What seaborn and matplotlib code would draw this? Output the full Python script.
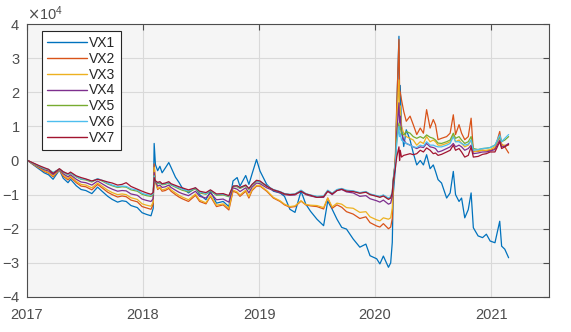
import numpy as np
import pandas as pd
import matplotlib
matplotlib.use("Agg")
import matplotlib.pyplot as plt
import matplotlib.dates as mdates
from matplotlib.ticker import ScalarFormatter, MultipleLocator
import seaborn as sns

# Sample dates shared by all seven series
dates = [
    "2017-01-03", "2017-01-20", "2017-02-08", "2017-02-24", "2017-03-10", "2017-03-24",
    "2017-04-13", "2017-04-25", "2017-05-10", "2017-05-18", "2017-06-05", "2017-06-20",
    "2017-07-05", "2017-07-24", "2017-08-11", "2017-08-25", "2017-09-12", "2017-09-26",
    "2017-10-13", "2017-10-27", "2017-11-09", "2017-11-24", "2017-12-14", "2017-12-29",
    "2018-01-12", "2018-01-26", "2018-02-02", "2018-02-05", "2018-02-09", "2018-02-16",
    "2018-02-23", "2018-03-02", "2018-03-12", "2018-03-23", "2018-03-30", "2018-04-13",
    "2018-04-24", "2018-05-04", "2018-05-24", "2018-06-15", "2018-06-28", "2018-07-18",
    "2018-08-01", "2018-08-20", "2018-09-10", "2018-09-28", "2018-10-11", "2018-10-24",
    "2018-11-02", "2018-11-20", "2018-11-30", "2018-12-10", "2018-12-24", "2019-01-04",
    "2019-01-25", "2019-02-15", "2019-03-08", "2019-03-22", "2019-04-08", "2019-04-24",
    "2019-05-13", "2019-05-28", "2019-06-12", "2019-07-02", "2019-07-23", "2019-08-05",
    "2019-08-19", "2019-09-03", "2019-09-18", "2019-10-03", "2019-10-24", "2019-11-14",
    "2019-12-03", "2019-12-16", "2020-01-06", "2020-01-16", "2020-01-27", "2020-02-12",
    "2020-02-19", "2020-02-24", "2020-02-27", "2020-03-05", "2020-03-09", "2020-03-16",
    "2020-03-18", "2020-03-20", "2020-03-24", "2020-03-31", "2020-04-08", "2020-04-20",
    "2020-04-30", "2020-05-11", "2020-05-22", "2020-06-01", "2020-06-11", "2020-06-22",
    "2020-07-02", "2020-07-09", "2020-07-17", "2020-07-28", "2020-08-13", "2020-08-24",
    "2020-09-03", "2020-09-10", "2020-09-21", "2020-09-29", "2020-10-09", "2020-10-20",
    "2020-10-29", "2020-11-05", "2020-11-20", "2020-12-04", "2020-12-16", "2020-12-28",
    "2021-01-12", "2021-01-27", "2021-02-02", "2021-02-12", "2021-02-24",
]

# Cumulative values, in units of 1e4
vx1 = [
    0.00, -0.12, -0.25, -0.36, -0.42, -0.55, -0.28, -0.52, -0.65, -0.55, -0.74, -0.85,
    -0.88, -0.97, -0.78, -0.90, -1.05, -1.14, -1.22, -1.18, -1.20, -1.32, -1.38, -1.53,
    -1.58, -1.62, -1.40, 0.50, -0.12, -0.30, -0.17, -0.36, -0.22, -0.06, -0.20, -0.49,
    -0.64, -0.80, -0.95, -0.80, -1.00, -1.15, -0.90, -1.25, -1.20, -1.35, -0.60, -0.50,
    -0.75, -0.44, -0.70, -0.39, 0.03, -0.31, -0.70, -0.90, -0.95, -1.05, -1.43, -1.52,
    -0.90, -1.28, -1.49, -1.72, -1.91, -1.19, -1.43, -1.72, -1.96, -2.01, -2.30, -2.54,
    -2.45, -2.79, -2.88, -3.03, -2.80, -3.13, -3.00, -2.40, -1.00, -0.20, 1.50, 3.64,
    1.50, 2.20, 1.00, 0.41, 0.90, 0.60, 0.22, -0.13, 0.00, -0.13, 0.17, -0.24,
    -0.13, -0.32, -0.56, -0.66, -1.10, -0.95, -0.32, -1.00, -1.20, -1.10, -1.68, -1.44,
    -0.95, -1.97, -2.21, -2.26, -2.16, -2.36, -2.41, -1.78, -2.51, -2.60, -2.85,
]
vx2 = [
    0.00, -0.11, -0.22, -0.32, -0.37, -0.48, -0.27, -0.46, -0.57, -0.49, -0.65, -0.75,
    -0.77, -0.86, -0.70, -0.80, -0.93, -1.00, -1.07, -1.04, -1.06, -1.16, -1.21, -1.35,
    -1.39, -1.43, -1.28, -0.10, -0.60, -0.85, -0.80, -0.90, -0.88, -0.82, -0.90, -1.00,
    -1.07, -1.12, -1.20, -1.02, -1.20, -1.27, -1.05, -1.35, -1.30, -1.45, -0.90, -0.95,
    -1.05, -0.90, -1.10, -0.88, -0.75, -0.75, -0.90, -1.10, -1.20, -1.30, -1.37, -1.35,
    -1.19, -1.30, -1.33, -1.35, -1.42, -1.10, -1.40, -1.30, -1.37, -1.50, -1.57, -1.70,
    -1.65, -1.82, -1.92, -1.95, -1.85, -2.00, -1.95, -1.70, -0.80, 0.20, 1.60, 3.55,
    2.07, 2.00, 1.78, 1.44, 1.15, 1.30, 1.05, 0.76, 0.95, 0.80, 1.49, 0.95,
    1.20, 1.05, 0.61, 0.65, 0.70, 0.80, 1.34, 0.76, 1.05, 0.80, 0.61, 0.70,
    1.24, 0.27, 0.27, 0.30, 0.28, 0.30, 0.35, 0.85, 0.48, 0.40, 0.22,
]
vx3 = [
    0.00, -0.10, -0.21, -0.30, -0.35, -0.45, -0.27, -0.43, -0.53, -0.46, -0.61, -0.70,
    -0.72, -0.80, -0.66, -0.75, -0.87, -0.94, -1.00, -0.98, -1.00, -1.09, -1.14, -1.27,
    -1.31, -1.34, -1.22, -0.20, -0.65, -0.82, -0.78, -0.86, -0.84, -0.78, -0.86, -0.95,
    -1.02, -1.07, -1.15, -0.98, -1.16, -1.24, -1.02, -1.31, -1.27, -1.40, -0.87, -0.92,
    -1.01, -0.87, -1.06, -0.85, -0.73, -0.73, -0.88, -1.08, -1.18, -1.28, -1.35, -1.33,
    -1.18, -1.29, -1.31, -1.32, -1.38, -1.10, -1.36, -1.25, -1.28, -1.38, -1.40, -1.52,
    -1.50, -1.65, -1.74, -1.77, -1.68, -1.72, -1.68, -1.40, -0.70, 0.10, 1.20, 2.36,
    1.40, 1.60, 1.00, 0.80, 0.70, 0.65, 0.60, 0.45, 0.55, 0.50, 0.70, 0.55,
    0.60, 0.55, 0.45, 0.45, 0.50, 0.55, 0.75, 0.55, 0.60, 0.50, 0.40, 0.45,
    0.60, 0.25, 0.28, 0.30, 0.30, 0.32, 0.40, 0.70, 0.45, 0.45, 0.45,
]
vx4 = [
    0.00, -0.09, -0.19, -0.27, -0.31, -0.41, -0.26, -0.39, -0.48, -0.42, -0.55, -0.63,
    -0.65, -0.72, -0.60, -0.68, -0.78, -0.84, -0.90, -0.88, -0.89, -0.98, -1.02, -1.13,
    -1.17, -1.20, -1.12, -0.35, -0.62, -0.75, -0.72, -0.79, -0.77, -0.72, -0.79, -0.87,
    -0.93, -0.97, -1.03, -0.90, -1.05, -1.10, -0.95, -1.15, -1.13, -1.22, -0.80, -0.84,
    -0.91, -0.80, -0.95, -0.78, -0.66, -0.68, -0.80, -0.88, -0.95, -1.00, -1.02, -1.01,
    -0.90, -1.00, -1.04, -1.08, -1.08, -0.90, -1.00, -0.88, -0.85, -0.92, -0.95, -1.05,
    -1.03, -1.12, -1.18, -1.22, -1.16, -1.28, -1.25, -1.05, -0.60, 0.00, 0.80, 1.69,
    1.10, 1.30, 0.80, 0.60, 0.50, 0.45, 0.40, 0.35, 0.40, 0.38, 0.50, 0.40,
    0.38, 0.35, 0.25, 0.28, 0.35, 0.40, 0.50, 0.40, 0.45, 0.40, 0.30, 0.35,
    0.45, 0.20, 0.22, 0.25, 0.25, 0.28, 0.32, 0.60, 0.40, 0.42, 0.50,
]
vx5 = [
    0.00, -0.08, -0.17, -0.24, -0.27, -0.36, -0.25, -0.34, -0.42, -0.37, -0.48, -0.55,
    -0.57, -0.63, -0.54, -0.60, -0.69, -0.74, -0.79, -0.77, -0.78, -0.86, -0.90, -0.99,
    -1.03, -1.05, -1.00, -0.45, -0.60, -0.68, -0.66, -0.71, -0.70, -0.66, -0.72, -0.78,
    -0.83, -0.87, -0.92, -0.83, -0.95, -0.99, -0.89, -1.02, -1.01, -1.06, -0.76, -0.77,
    -0.82, -0.74, -0.85, -0.72, -0.61, -0.63, -0.75, -0.86, -0.92, -0.98, -1.00, -0.99,
    -0.88, -0.98, -1.02, -1.06, -1.05, -0.88, -0.97, -0.86, -0.83, -0.88, -0.90, -0.95,
    -0.92, -0.99, -1.04, -1.06, -1.02, -1.12, -1.08, -0.95, -0.55, -0.05, 0.60, 1.10,
    0.90, 1.00, 0.80, 0.75, 0.85, 0.80, 0.70, 0.65, 0.70, 0.65, 0.75, 0.68,
    0.65, 0.60, 0.51, 0.50, 0.55, 0.60, 0.80, 0.65, 0.70, 0.60, 0.50, 0.55,
    0.70, 0.35, 0.32, 0.35, 0.36, 0.38, 0.45, 0.70, 0.55, 0.60, 0.70,
]
vx6 = [
    0.00, -0.08, -0.16, -0.23, -0.26, -0.35, -0.25, -0.33, -0.41, -0.36, -0.47, -0.54,
    -0.55, -0.61, -0.53, -0.58, -0.67, -0.72, -0.77, -0.75, -0.76, -0.83, -0.87, -0.96,
    -1.00, -1.02, -0.97, -0.45, -0.60, -0.66, -0.64, -0.69, -0.68, -0.64, -0.70, -0.76,
    -0.80, -0.84, -0.89, -0.81, -0.92, -0.97, -0.87, -1.00, -0.99, -1.04, -0.74, -0.75,
    -0.80, -0.72, -0.83, -0.70, -0.60, -0.62, -0.74, -0.85, -0.91, -0.97, -0.99, -0.98,
    -0.87, -0.97, -1.01, -1.05, -1.04, -0.87, -0.96, -0.85, -0.82, -0.87, -0.89, -0.94,
    -0.91, -0.98, -1.03, -1.05, -1.01, -1.10, -1.06, -0.92, -0.55, -0.05, 0.50, 1.00,
    0.70, 0.80, 0.60, 0.55, 0.50, 0.45, 0.40, 0.38, 0.45, 0.42, 0.55, 0.45,
    0.45, 0.42, 0.40, 0.40, 0.45, 0.50, 0.70, 0.55, 0.55, 0.50, 0.45, 0.48,
    0.60, 0.30, 0.32, 0.35, 0.36, 0.38, 0.45, 0.75, 0.55, 0.65, 0.76,
]
vx7 = [
    0.00, -0.07, -0.15, -0.21, -0.26, -0.38, -0.24, -0.33, -0.39, -0.34, -0.45, -0.50,
    -0.54, -0.60, -0.55, -0.58, -0.63, -0.66, -0.72, -0.70, -0.65, -0.76, -0.84, -0.90,
    -0.95, -0.99, -0.94, -0.50, -0.60, -0.64, -0.62, -0.68, -0.66, -0.62, -0.68, -0.73,
    -0.77, -0.80, -0.86, -0.80, -0.90, -0.94, -0.86, -0.98, -0.97, -1.03, -0.75, -0.74,
    -0.79, -0.72, -0.82, -0.70, -0.58, -0.60, -0.75, -0.86, -0.92, -0.98, -1.00, -0.99,
    -0.90, -0.98, -1.02, -1.08, -1.06, -0.90, -0.98, -0.88, -0.84, -0.90, -0.91, -0.96,
    -0.93, -1.00, -1.05, -1.08, -1.04, -1.14, -1.10, -0.95, -0.60, -0.20, 0.10, 0.40,
    0.00, 0.30, 0.10, 0.15, 0.17, 0.20, 0.17, 0.20, 0.30, 0.25, 0.37, 0.30,
    0.20, 0.22, 0.15, 0.18, 0.25, 0.30, 0.45, 0.30, 0.35, 0.25, 0.10, 0.15,
    0.40, 0.10, 0.12, 0.18, 0.20, 0.25, 0.25, 0.55, 0.35, 0.40, 0.47,
]

series_names = ["VX1", "VX2", "VX3", "VX4", "VX5", "VX6", "VX7"]
series_values = [vx1, vx2, vx3, vx4, vx5, vx6, vx7]
palette = ["#0072BD", "#D95319", "#EDB120", "#7E2F8E", "#77AC30", "#4DBEEE", "#A2142F"]

frames = []
for name, vals in zip(series_names, series_values):
    frames.append(pd.DataFrame({
        "date": pd.to_datetime(dates),
        "value": np.asarray(vals) * 1e4,
        "series": name,
    }))
df = pd.concat(frames, ignore_index=True)

sns.set_theme(style="white")
plt.rcParams["font.family"] = ["Liberation Sans", "DejaVu Sans"]
plt.rcParams["axes.unicode_minus"] = False

fig = plt.figure(figsize=(5.71, 3.32), dpi=100)
ax = fig.add_axes([27 / 571, 1 - 297 / 332, 522 / 571, 273 / 332])
ax.set_facecolor("#f5f5f5")

sns.lineplot(data=df, x="date", y="value", hue="series", palette=palette,
             hue_order=series_names, estimator=None, linewidth=0.9, ax=ax,
             legend=True)

ax.set_xlim(pd.Timestamp("2017-01-01"), pd.Timestamp("2021-07-01"))
ax.set_ylim(-4e4, 4e4)
ax.yaxis.set_major_locator(MultipleLocator(1e4))
fmt = ScalarFormatter(useMathText=True)
fmt.set_powerlimits((0, 0))
ax.yaxis.set_major_formatter(fmt)
ax.xaxis.set_major_locator(mdates.YearLocator())
ax.xaxis.set_major_formatter(mdates.DateFormatter("%Y"))
ax.set_xlabel("")
ax.set_ylabel("")

tick_color = "#4d4d4d"
ax.grid(True, color="#d9d9d9", linewidth=0.8)
ax.set_axisbelow(True)
ax.tick_params(axis="both", direction="in", length=4, width=0.8, colors=tick_color,
               labelsize=10.5, top=True, right=True, labelcolor=tick_color)
ax.tick_params(axis="x", pad=8)
ax.tick_params(axis="y", pad=5)
ax.yaxis.get_offset_text().set_color(tick_color)
ax.yaxis.get_offset_text().set_fontsize(10.5)
for sp in ax.spines.values():
    sp.set_color("#4d4d4d")
    sp.set_linewidth(0.8)

handles, labels = ax.get_legend_handles_labels()
leg = ax.legend(handles, labels, loc="upper left", bbox_to_anchor=(0.029, 0.974),
                borderaxespad=0, fontsize=10, frameon=True, fancybox=False,
                handlelength=2.9, handletextpad=0.15, labelspacing=0.13,
                borderpad=0.35)
leg.get_frame().set_edgecolor("#262626")
leg.get_frame().set_linewidth(0.8)
leg.get_frame().set_facecolor("white")
leg.get_frame().set_alpha(1)
for line in leg.get_lines():
    line.set_linewidth(1.0)

fig.savefig("out.png", dpi=100)
